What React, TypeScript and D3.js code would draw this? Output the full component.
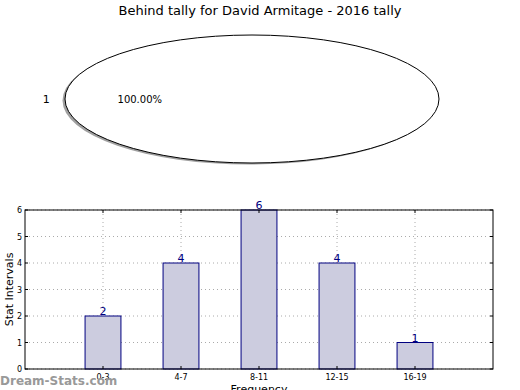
import React from 'react';
import * as d3 from 'd3';

const title = 'Behind tally for David Armitage - 2016 tally';
const pieLabels = ['1'];
const pieValues = [1];
const categories = ['0-3', '4-7', '8-11', '12-15', '16-19'];
const counts = [2, 4, 6, 4, 1];
const yTicks = [0, 1, 2, 3, 4, 5, 6];

const W = 520;
const H = 390;
const font = 'DejaVu Sans, sans-serif';

const App: React.FC = () => {
  // Pie (drawn as a squashed circle, like the source)
  const cx = 252, cy = 99, rx = 187, ry = 64;
  const arcs = d3.pie<number>().sort(null)(pieValues);
  const arcGen = d3.arc<d3.PieArcDatum<number>>().innerRadius(0).outerRadius(1);
  const total = d3.sum(pieValues);

  // Bar chart
  const left = 25, right = 493, top = 210, bottom = 369;
  const x = d3.scaleLinear().domain([-1, categories.length]).range([left, right]);
  const y = d3.scaleLinear().domain([0, 6]).range([bottom, top]);
  const barW = x(0.46) - x(0);

  return (
    <svg width={W} height={H} style={{ position: 'absolute', left: 0, top: 0, background: '#fff' }}>
      <text x={260} y={15} textAnchor="middle" fontFamily={font} fontSize={13} fill="#000">{title}</text>

      {/* shadow */}
      <g transform={`translate(${cx - 2.5},${cy + 1.5}) scale(${rx},${ry})`}>
        {arcs.map((a, i) => (
          <path key={i} d={arcGen(a) || ''} fill="#888" opacity={0.8} />
        ))}
      </g>
      <g transform={`translate(${cx},${cy}) scale(${rx},${ry})`}>
        {arcs.map((a, i) => (
          <path key={i} d={arcGen(a) || ''} fill="#fff" stroke="#000" strokeWidth={1} vectorEffect="non-scaling-stroke" />
        ))}
      </g>
      {arcs.map((a, i) => {
        const mid = Math.PI;
        return (
          <g key={i}>
            <text x={cx + Math.cos(mid) * rx * 1.1} y={cy + 4} textAnchor="middle" fontFamily={font} fontSize={11}>{pieLabels[i]}</text>
            <text x={cx + Math.cos(mid) * rx * 0.6} y={cy + 4} textAnchor="middle" fontFamily={font} fontSize={10}>
              {((a.value / total) * 100).toFixed(2)}%
            </text>
          </g>
        );
      })}

      {/* grid */}
      {yTicks.map(t => (
        <line key={'gy' + t} x1={left} x2={right} y1={y(t)} y2={y(t)} stroke="#aaa" strokeDasharray="1,3" />
      ))}
      {categories.map((c, i) => (
        <line key={'gx' + c} x1={x(i)} x2={x(i)} y1={top} y2={bottom} stroke="#aaa" strokeDasharray="1,3" />
      ))}

      {/* bars */}
      {counts.map((v, i) => (
        <g key={categories[i]}>
          <rect x={x(i) - barW / 2} y={y(v)} width={barW} height={y(0) - y(v)} fill="#ccccdf" stroke="#000080" strokeWidth={1} />
          <text x={x(i)} y={y(v) - 1} textAnchor="middle" fontFamily={font} fontSize={11} fill="#000080">{v}</text>
        </g>
      ))}

      {/* frame and ticks */}
      <rect x={left} y={top} width={right - left} height={bottom - top} fill="none" stroke="#000" strokeWidth={1} />
      {yTicks.map(t => (
        <g key={'ty' + t}>
          <line x1={left} x2={left + 3} y1={y(t)} y2={y(t)} stroke="#000" />
          <line x1={right - 3} x2={right} y1={y(t)} y2={y(t)} stroke="#000" />
          <text x={left - 3} y={y(t) + 3} textAnchor="end" fontFamily={font} fontSize={8}>{t}</text>
        </g>
      ))}
      {categories.map((c, i) => (
        <g key={'tx' + c}>
          <line x1={x(i)} x2={x(i)} y1={bottom} y2={bottom - 3} stroke="#000" />
          <line x1={x(i)} x2={x(i)} y1={top} y2={top + 3} stroke="#000" />
          <text x={x(i)} y={bottom + 11} textAnchor="middle" fontFamily={font} fontSize={8}>{c}</text>
        </g>
      ))}

      <text transform={`translate(13,${(top + bottom) / 2}) rotate(-90)`} textAnchor="middle" fontFamily={font} fontSize={11}>Stat Intervals</text>
      <text x={259} y={393} textAnchor="middle" fontFamily={font} fontSize={11}>Frequency</text>
      <text x={0} y={385} fontFamily={font} fontSize={12} fontWeight="bold" fill="#999">Dream-Stats.com</text>
    </svg>
  );
};

export default App;
